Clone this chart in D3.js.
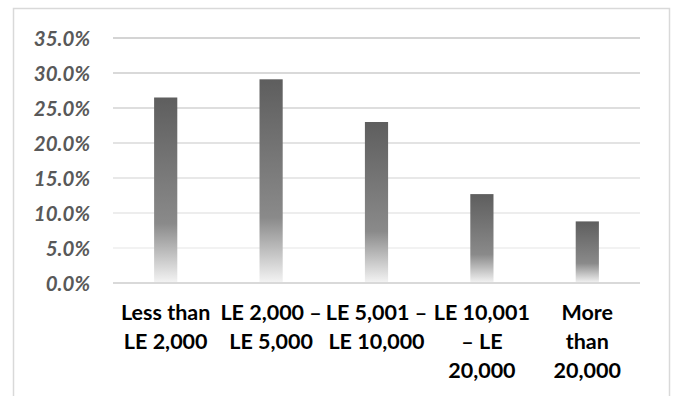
<!DOCTYPE html>
<html>
<head>
<meta charset="utf-8">
<script src="https://cdn.jsdelivr.net/npm/d3@7"></script>
<style>
  html, body { margin: 0; padding: 0; background: #fff; }
  svg { display: block; }
</style>
</head>
<body>
<div id="chart"></div>
<script>
// income bands (x axis) and share of respondents (%)
const categories = ["Less than LE 2,000", "LE 2,000 – LE 5,000", "LE 5,001 – LE 10,000", "LE 10,001 – LE 20,000", "More than 20,000"];
const tickLines = [
    ["Less than", "LE 2,000"],
    ["LE 2,000 –", "LE 5,000"],
    ["LE 5,001 –", "LE 10,000"],
    ["LE 10,001", "– LE", "20,000"],
    ["More", "than", "20,000"]
];
const shares = [26.5, 29.1, 23.0, 12.7, 8.8];
const yTicks = [0, 5, 10, 15, 20, 25, 30, 35];

const W = 675, H = 396;
const margin = { top: 38, right: 35, bottom: 113, left: 113 };
const width = W - margin.left - margin.right;
const height = H - margin.top - margin.bottom;

const svg = d3.select("#chart")
    .append("svg")
    .attr("width", W)
    .attr("height", H);

// chart area border
svg.append("rect")
    .attr("x", 13.5)
    .attr("y", 8.5)
    .attr("width", 656)
    .attr("height", 400)
    .attr("fill", "none")
    .attr("stroke", "#d9d9d9")
    .attr("stroke-width", 1.5);

const defs = svg.append("defs");
const grad = defs.append("linearGradient")
    .attr("id", "barFill")
    .attr("x1", 0).attr("y1", 0)
    .attr("x2", 0).attr("y2", 1);
grad.append("stop").attr("offset", "0%").attr("stop-color", "#5e5e5e");
grad.append("stop").attr("offset", "68%").attr("stop-color", "#8a8a8a");
grad.append("stop").attr("offset", "100%").attr("stop-color", "#f4f4f4");

const g = svg.append("g")
    .attr("transform", `translate(${margin.left}, ${margin.top})`);

const x = d3.scaleBand()
    .domain(categories)
    .range([0, width])
    .paddingInner(0.78)
    .paddingOuter(0.39);

const y = d3.scaleLinear()
    .domain([0, 35])
    .range([height, 0]);

// gridlines get lighter toward the bottom
const gridColor = d3.scaleLinear()
    .domain([5, 35])
    .range(["#eeeeee", "#c6c6c6"]);

g.append("g")
    .selectAll("line")
    .data(yTicks.filter(d => d > 0))
    .enter()
    .append("line")
    .attr("x1", 0)
    .attr("x2", width)
    .attr("y1", d => y(d))
    .attr("y2", d => y(d))
    .attr("stroke", d => gridColor(d))
    .attr("stroke-width", 1.5);

g.selectAll(".bar")
    .data(shares)
    .enter()
    .append("rect")
    .attr("class", "bar")
    .attr("x", (d, i) => x(categories[i]))
    .attr("y", d => y(d))
    .attr("width", x.bandwidth())
    .attr("height", d => height - y(d))
    .attr("fill", "url(#barFill)");

// baseline
g.append("line")
    .attr("x1", 0)
    .attr("x2", width)
    .attr("y1", y(0))
    .attr("y2", y(0))
    .attr("stroke", "#d9d9d9")
    .attr("stroke-width", 2);

// y axis labels
const yAxis = g.append("g")
    .call(d3.axisLeft(y).tickValues(yTicks).tickFormat(d => d.toFixed(1) + "%").tickSize(0).tickPadding(23));
yAxis.select(".domain").remove();
yAxis.selectAll("text")
    .attr("dy", "0.36em")
    .style("font-family", "Lato, 'Open Sans', sans-serif")
    .style("font-size", "20.5px")
    .style("font-weight", "bold")
    .style("font-style", "italic")
    .style("fill", "#595959");

// x axis labels, wrapped as in the original
const xAxis = g.append("g")
    .attr("transform", `translate(0, ${height})`)
    .call(d3.axisBottom(x).tickSize(0).tickFormat(""));
xAxis.select(".domain").remove();
xAxis.selectAll(".tick text").remove();
xAxis.selectAll(".tick")
    .append("text")
    .attr("text-anchor", "middle")
    .style("font-family", "Lato, 'Open Sans', sans-serif")
    .style("font-size", "21.5px")
    .style("font-weight", "bold")
    .style("fill", "#000")
    .selectAll("tspan")
    .data((d, i) => tickLines[i])
    .enter()
    .append("tspan")
    .attr("x", 0)
    .attr("y", (d, j) => 37 + j * 29)
    .text(d => d);
</script>
</body>
</html>
